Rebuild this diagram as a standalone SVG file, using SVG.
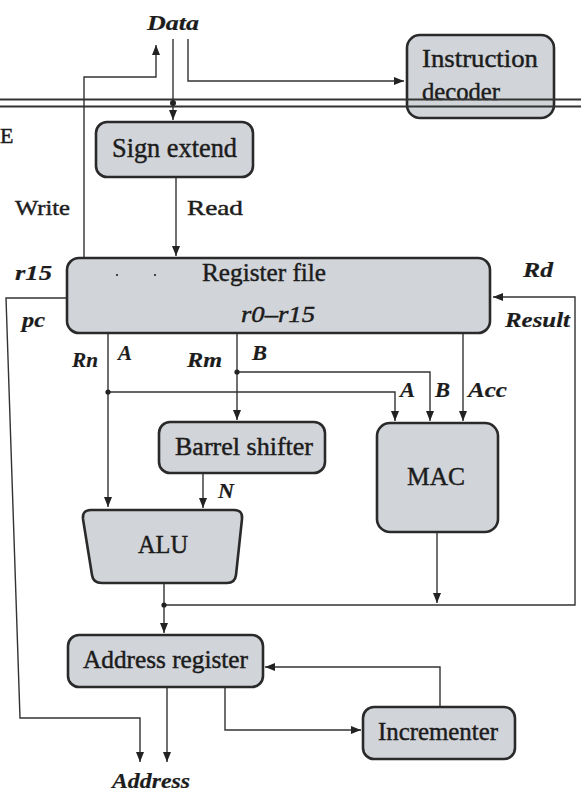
<svg xmlns="http://www.w3.org/2000/svg" width="581" height="804" viewBox="0 0 581 804">
<style>
.box{fill:#d1d4d9;stroke:#2a2a2a;stroke-width:2.6}
.ln{fill:none;stroke:#333;stroke-width:1.4}
.bus{fill:none;stroke:#333;stroke-width:1.8}
.t{font-family:"Liberation Serif","Times New Roman",serif;fill:#1c1c1c;stroke:#1c1c1c;stroke-width:0.45}
.bi{font-style:italic;font-weight:bold;stroke-width:0.2}
.it{font-style:italic}
.dot{fill:#222}
</style>
<defs>
<marker id="ah" markerUnits="userSpaceOnUse" markerWidth="11" markerHeight="9" refX="10" refY="4" orient="auto">
<path d="M0,0 L10,4 L0,8 z" fill="#222"/>
</marker>
</defs>
<rect width="581" height="804" fill="#fff"/>

<g id="connectors">
<path class="ln" d="M84,258 V77 H156 V45" marker-end="url(#ah)"/>
<path class="ln" d="M173,39 V120" marker-end="url(#ah)"/>
<path class="ln" d="M188,39 V81 H404" marker-end="url(#ah)"/>
<path class="ln" d="M176,177 V256" marker-end="url(#ah)"/>
<path class="ln" d="M67,298 H6 L20,718 H140 V762" marker-end="url(#ah)"/>
<path class="ln" d="M164,605 H575 V297 H493" marker-end="url(#ah)"/>
<path class="ln" d="M108,333 V507" marker-end="url(#ah)"/>
<path class="ln" d="M108,392 H395 V421" marker-end="url(#ah)"/>
<path class="ln" d="M237,333 V420" marker-end="url(#ah)"/>
<path class="ln" d="M237,372 H430 V421" marker-end="url(#ah)"/>
<path class="ln" d="M463,333 V421" marker-end="url(#ah)"/>
<path class="ln" d="M203,473 V508" marker-end="url(#ah)"/>
<path class="ln" d="M164,583 V633" marker-end="url(#ah)"/>
<path class="ln" d="M437,532 V603" marker-end="url(#ah)"/>
<path class="ln" d="M167,687 V762" marker-end="url(#ah)"/>
<path class="ln" d="M225,687 V730 H361" marker-end="url(#ah)"/>
<path class="ln" d="M440,707 V667 H265" marker-end="url(#ah)"/>
<circle class="dot" cx="108" cy="392" r="2.6"/>
<circle class="dot" cx="237" cy="372" r="2.6"/>
<circle class="dot" cx="164" cy="605" r="2.6"/>
</g>

<g id="decoder">
<rect class="box" x="407" y="35" width="147" height="83" rx="13"/>
<text class="t" x="422" y="67" font-size="26" textLength="116" lengthAdjust="spacingAndGlyphs">Instruction</text>
<text class="t" x="422" y="100" font-size="26" textLength="78" lengthAdjust="spacingAndGlyphs">decoder</text>
</g>

<g id="bus">
<line class="bus" x1="0" y1="99.5" x2="581" y2="99.5"/>
<line class="bus" x1="0" y1="106.5" x2="581" y2="106.5"/>
<circle class="dot" cx="173" cy="103" r="3"/>
</g>

<g id="labels">
<text class="t bi" x="147" y="30" font-size="22" textLength="52" lengthAdjust="spacingAndGlyphs">Data</text>
<text class="t" x="0" y="143" font-size="22">E</text>
<text class="t" x="15" y="215" font-size="22" textLength="55" lengthAdjust="spacingAndGlyphs">Write</text>
<text class="t" x="187" y="215" font-size="22" textLength="56" lengthAdjust="spacingAndGlyphs">Read</text>
<text class="t bi" x="15" y="280" font-size="22" textLength="37" lengthAdjust="spacingAndGlyphs">r15</text>
<text class="t bi" x="22" y="327" font-size="22" textLength="23" lengthAdjust="spacingAndGlyphs">pc</text>
<text class="t bi" x="523" y="277" font-size="22" textLength="30" lengthAdjust="spacingAndGlyphs">Rd</text>
<text class="t bi" x="505" y="327" font-size="22" textLength="65" lengthAdjust="spacingAndGlyphs">Result</text>
<text class="t bi" x="72" y="367" font-size="21" textLength="26" lengthAdjust="spacingAndGlyphs">Rn</text>
<text class="t bi" x="118" y="360" font-size="21" textLength="14" lengthAdjust="spacingAndGlyphs">A</text>
<text class="t bi" x="187" y="367" font-size="21" textLength="35" lengthAdjust="spacingAndGlyphs">Rm</text>
<text class="t bi" x="252" y="360" font-size="21" textLength="15" lengthAdjust="spacingAndGlyphs">B</text>
<text class="t bi" x="400" y="397" font-size="21" textLength="15" lengthAdjust="spacingAndGlyphs">A</text>
<text class="t bi" x="435" y="397" font-size="21" textLength="15" lengthAdjust="spacingAndGlyphs">B</text>
<text class="t bi" x="468" y="397" font-size="21" textLength="39" lengthAdjust="spacingAndGlyphs">Acc</text>
<text class="t bi" x="218" y="498" font-size="21" textLength="16" lengthAdjust="spacingAndGlyphs">N</text>
<text class="t bi" x="112" y="788" font-size="22" textLength="78" lengthAdjust="spacingAndGlyphs">Address</text>
</g>

<g id="sign-extend">
<rect class="box" x="96" y="122" width="157" height="55" rx="11"/>
<text class="t" x="112" y="157" font-size="27" textLength="125" lengthAdjust="spacingAndGlyphs">Sign extend</text>
</g>

<g id="register-file">
<rect class="box" x="67" y="258" width="423" height="75" rx="12"/>
<circle class="dot" cx="117" cy="275" r="1.1"/>
<circle class="dot" cx="155" cy="275" r="1.1"/>
<text class="t" x="202" y="281" font-size="26" textLength="124" lengthAdjust="spacingAndGlyphs">Register file</text>
<text class="t it" x="241" y="322" font-size="24" textLength="74" lengthAdjust="spacingAndGlyphs">r0–r15</text>
</g>

<g id="barrel-shifter">
<rect class="box" x="159" y="422" width="166" height="51" rx="11"/>
<text class="t" x="175" y="455" font-size="25" textLength="138" lengthAdjust="spacingAndGlyphs">Barrel shifter</text>
</g>

<g id="mac">
<rect class="box" x="377" y="423" width="121" height="109" rx="13"/>
<text class="t" x="407" y="485" font-size="26" textLength="58" lengthAdjust="spacingAndGlyphs">MAC</text>
</g>

<g id="alu">
<path class="box" d="M91,510 H234 Q243,510 242,519 L236,575 Q235,583 227,583 H102 Q93,583 92,575 L83,519 Q82,510 91,510 Z"/>
<text class="t" x="138" y="553" font-size="25" textLength="50" lengthAdjust="spacingAndGlyphs">ALU</text>
</g>

<g id="address-register">
<rect class="box" x="68" y="635" width="195" height="52" rx="11"/>
<text class="t" x="83" y="668" font-size="25" textLength="165" lengthAdjust="spacingAndGlyphs">Address register</text>
</g>

<g id="incrementer">
<rect class="box" x="363" y="707" width="152" height="52" rx="11"/>
<text class="t" x="378" y="740" font-size="25" textLength="120" lengthAdjust="spacingAndGlyphs">Incrementer</text>
</g>
</svg>
